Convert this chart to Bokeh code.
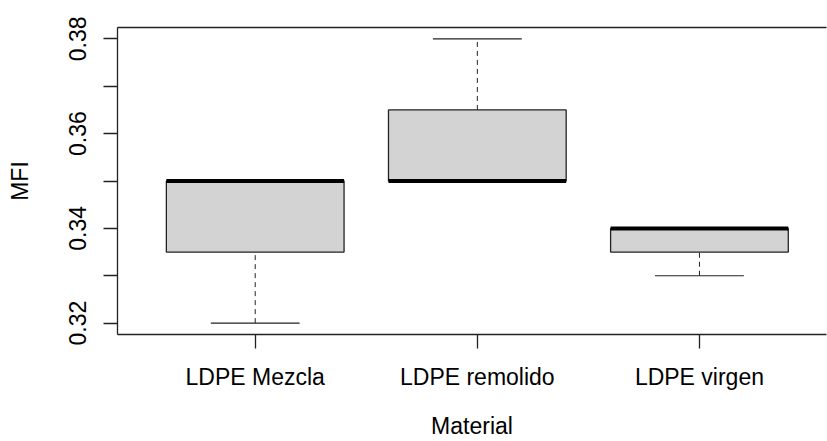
from bokeh.plotting import figure
from bokeh.models import ColumnDataSource, FixedTicker, LinearAxis, Range1d
from bokeh.embed import file_html
from bokeh.resources import INLINE

categories = ["LDPE Mezcla", "LDPE remolido", "LDPE virgen"]
lower = [0.320, 0.350, 0.330]
q1 = [0.335, 0.350, 0.335]
median = [0.350, 0.350, 0.340]
q3 = [0.350, 0.365, 0.340]
upper = [0.350, 0.380, 0.340]
y_major = [0.32, 0.34, 0.36, 0.38]
y_minor = [0.33, 0.35, 0.37]

pos = [i + 1 for i in range(len(categories))]
box_w = 0.8
cap_w = 0.4

src = ColumnDataSource(dict(
    x=pos, lower=lower, q1=q1, median=median, q3=q3, upper=upper,
    left=[p - box_w / 2 for p in pos], right=[p + box_w / 2 for p in pos],
    cl=[p - cap_w / 2 for p in pos], cr=[p + cap_w / 2 for p in pos],
))

FONT = "Liberation Sans"
COL = "#222222"
LH = 0.8

p = figure(width=827, height=441, output_backend="svg", toolbar_location=None,
           x_range=Range1d(0.38, 3.572), y_range=Range1d(0.3176, 0.3824),
           min_border_left=117, min_border_right=1, min_border_top=27, min_border_bottom=107)
p.outline_line_color = None
p.grid.visible = False
p.background_fill_color = "white"
p.border_fill_color = "white"

# whiskers
p.segment(x0="x", y0="q3", x1="x", y1="upper", source=src, line_color=COL, line_width=1, line_dash="5 4")
p.segment(x0="x", y0="lower", x1="x", y1="q1", source=src, line_color=COL, line_width=1, line_dash="5 4")
# caps
p.segment(x0="cl", y0="upper", x1="cr", y1="upper", source=src, line_color=COL, line_width=1.2)
p.segment(x0="cl", y0="lower", x1="cr", y1="lower", source=src, line_color=COL, line_width=1.2)
# boxes
p.quad(left="left", right="right", bottom="q1", top="q3", source=src,
       fill_color="#D3D3D3", line_color=COL, line_width=1.3)
# medians
p.segment(x0="left", y0="median", x1="right", y1="median", source=src, line_color="black", line_width=4)

def style(a):
    a.major_label_text_font = FONT
    a.major_label_text_font_size = "23px"
    a.major_label_text_color = "black"
    a.major_label_text_line_height = LH
    a.axis_label_text_font = FONT
    a.axis_label_text_font_size = "23px"
    a.axis_label_text_font_style = "normal"
    a.axis_label_text_color = "black"
    a.axis_label_text_line_height = LH
    a.axis_line_color = COL
    a.axis_line_width = 1.3
    a.major_tick_line_color = COL
    a.minor_tick_line_color = COL
    a.major_tick_line_width = 1.3
    a.minor_tick_line_width = 1.3

# y axis
ya = p.yaxis[0]
ya.ticker = FixedTicker(ticks=y_major, minor_ticks=y_minor)
ya.major_label_overrides = {v: f"{v:.2f}" for v in y_major}
ya.major_label_orientation = "vertical"
ya.major_tick_out = 14
ya.major_tick_in = 0
ya.minor_tick_out = 14
ya.minor_tick_in = 0
ya.major_label_standoff = 17
ya.axis_label = "MFI"
ya.axis_label_standoff = 34
style(ya)

# x axis
xa = p.xaxis[0]
xa.ticker = FixedTicker(ticks=pos, minor_ticks=[])
xa.major_label_overrides = {p_: c for p_, c in zip(pos, categories)}
xa.major_tick_out = 14
xa.major_tick_in = 0
xa.major_label_standoff = 15
xa.axis_label = "Material"
xa.axis_label_standoff = 20
style(xa)

# top frame line
top = LinearAxis(ticker=FixedTicker(ticks=[]), major_label_text_font_size="0px",
                 major_tick_line_color=None, minor_tick_line_color=None,
                 axis_line_color=COL, axis_line_width=1.3)
p.add_layout(top, "above")

open("out.html", "w").write(file_html(p, INLINE))
